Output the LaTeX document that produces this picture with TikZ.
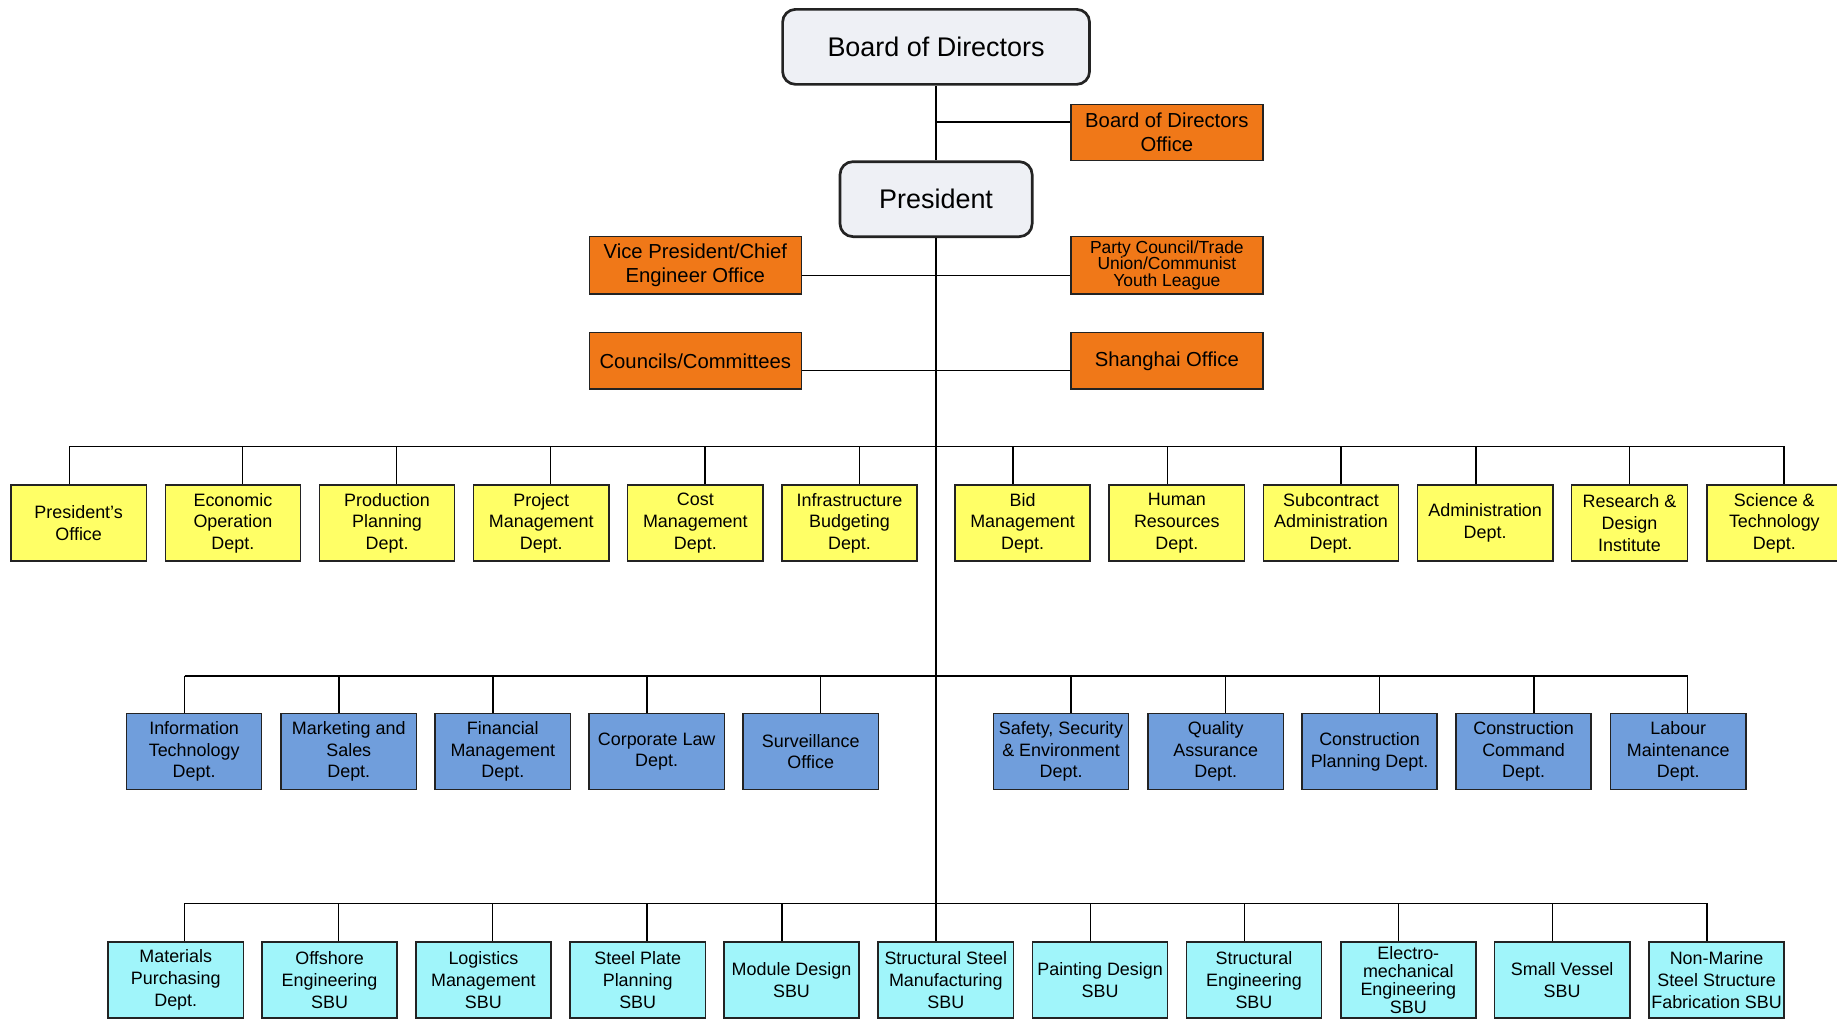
\documentclass[tikz,border=0pt]{standalone}
\usepackage{fontspec}
\setmainfont{Liberation Sans}
\definecolor{boardfill}{RGB}{238,240,245}
\definecolor{orangefill}{RGB}{240,120,24}
\definecolor{yellowfill}{RGB}{255,255,102}
\definecolor{bluefill}{RGB}{112,158,220}
\definecolor{cyanfill}{RGB}{160,245,250}
\definecolor{edge}{RGB}{35,35,35}
\begin{document}
\begin{tikzpicture}[x=1pt,y=-1pt,
  link/.style={line width=1.2pt, draw=black},
  topbox/.style={draw=edge, line width=2.3pt, rounded corners=11pt, fill=boardfill,
    inner sep=0pt, font=\fontsize{23}{27}\selectfont},
  obox/.style={draw=edge, line width=1.3pt, fill=orangefill, align=center, inner sep=0pt,
    font=\fontsize{17.3}{20}\selectfont},
  unitbox/.style={draw=edge, line width=1.3pt, align=center, inner sep=0pt,
    minimum width=115.4pt, minimum height=65pt, font=\fontsize{15.3}{18.5}\selectfont},
  ybox/.style={unitbox, fill=yellowfill},
  bbox/.style={unitbox, fill=bluefill},
  cbox/.style={unitbox, fill=cyanfill},
]
\useasboundingbox (0,0) rectangle (1568,869);

% ---- top of the hierarchy
\node[topbox, minimum width=262pt, minimum height=64pt] (board) at (799,40) {Board of Directors};
\node[topbox, minimum width=164pt, minimum height=64pt] (pres) at (799,170) {President};

\node[obox, minimum width=164pt, minimum height=48pt] (bodo) at (996,113) {Board of Directors\\Office};
\node[obox, minimum width=181pt, minimum height=49pt] (vp) at (593.5,226.5) {Vice President/Chief\\Engineer Office};
\node[obox, minimum width=164pt, minimum height=49pt, font=\fontsize{14.9}{14}\selectfont] (party) at (996,226.5) {Party Council/Trade\\Union/Communist\\Youth League};
\node[obox, minimum width=181pt, minimum height=48pt] (coun) at (593.5,308) {Councils/Committees};
\node[obox, minimum width=164pt, minimum height=48pt] (sha) at (996,308) {Shanghai Office};

% ---- first row of departments
\node[ybox] (y1) at (67.15,446.5) {President’s\\Office};
\node[ybox] (y2) at (198.8,446.5) {Economic\\Operation\\Dept.};
\node[ybox] (y3) at (330.4,446.5) {Production\\Planning\\Dept.};
\node[ybox] (y4) at (462.0,446.5) {Project\\Management\\Dept.};
\node[ybox] (y5) at (593.5,446.5) {Cost\\Management\\Dept.};
\node[ybox] (y6) at (725.1,446.5) {Infrastructure\\Budgeting\\Dept.};
\node[ybox] (y7) at (872.85,446.5) {Bid\\Management\\Dept.};
\node[ybox] (y8) at (1004.5,446.5) {Human\\Resources\\Dept.};
\node[ybox] (y9) at (1136.1,446.5) {Subcontract\\Administration\\Dept.};
\node[ybox] (y10) at (1267.65,446.5) {Administration\\Dept.};
\node[ybox, minimum width=99pt] (y11) at (1390.9,446.5) {Research \&\\Design\\Institute};
\node[ybox] (y12) at (1514.5,446.5) {Science \&\\Technology\\Dept.};

% ---- second row of departments
\node[bbox] (b1) at (165.7,641.5) {Information\\Technology\\Dept.};
\node[bbox] (b2) at (297.7,641.5) {Marketing and\\Sales\\Dept.};
\node[bbox] (b3) at (429.2,641.5) {Financial\\Management\\Dept.};
\node[bbox] (b4) at (560.5,641.5) {Corporate Law\\Dept.};
\node[bbox] (b5) at (692,641.5) {Surveillance\\Office};
\node[bbox] (b6) at (905.7,641.5) {Safety, Security\\\& Environment\\Dept.};
\node[bbox] (b7) at (1037.7,641.5) {Quality\\Assurance\\Dept.};
\node[bbox] (b8) at (1169,641.5) {Construction\\Planning Dept.};
\node[bbox] (b9) at (1300.5,641.5) {Construction\\Command\\Dept.};
\node[bbox] (b10) at (1432.5,641.5) {Labour\\Maintenance\\Dept.};

% ---- business units
\node[cbox] (c1) at (150,836.5) {Materials\\Purchasing\\Dept.};
\node[cbox] (c2) at (281.3,836.5) {Offshore\\Engineering\\SBU};
\node[cbox] (c3) at (412.6,836.5) {Logistics\\Management\\SBU};
\node[cbox] (c4) at (544.3,836.5) {Steel Plate\\Planning\\SBU};
\node[cbox] (c5) at (675.6,836.5) {Module Design\\SBU};
\node[cbox] (c6) at (807.3,836.5) {Structural Steel\\Manufacturing\\SBU};
\node[cbox] (c7) at (939,836.5) {Painting Design\\SBU};
\node[cbox] (c8) at (1070.3,836.5) {Structural\\Engineering\\SBU};
\node[cbox, font=\fontsize{15.3}{15.5}\selectfont] (c9) at (1202.1,836.5) {Electro-\\mechanical\\Engineering\\SBU};
\node[cbox] (c10) at (1333.4,836.5) {Small Vessel\\SBU};
\node[cbox] (c11) at (1465.2,836.5) {Non-Marine\\Steel Structure\\Fabrication SBU};

% ---- junctions on the trunk
\coordinate (j1) at (799,104);
\coordinate (j2) at (799,235);
\coordinate (j3) at (799,316);

% ---- drop points on the three buses
\foreach \i/\x in {1/59.1,2/206.9,3/338.5,4/470.1,5/601.9,6/733.5,7/864.8,8/996.4,9/1144.6,10/1259.7,11/1390.7,12/1522.7}
  \coordinate (yc\i) at (\x,381);
\foreach \i/\x in {1/157.6,2/289.2,3/420.7,4/552.2,5/700.3,6/914,7/1046,8/1177.5,9/1309.5,10/1440.6}
  \coordinate (bc\i) at (\x,577);
\foreach \i/\x in {1/157.6,2/288.9,3/420.5,4/552.3,5/667.4,6/799,7/930.9,8/1062.1,9/1193.9,10/1325.2,11/1457}
  \coordinate (cc\i) at (\x,771);

% ---- connectors
\draw[link] (board.south) -- (pres.north);
\draw[link] (j1) -- (j1 -| bodo.west);
\draw[link] (pres.south) -- (cc6 |- c6.north);
\draw[link] (j2 -| vp.east) -- (j2 -| party.west);
\draw[link] (j3 -| coun.east) -- (j3 -| sha.west);

\draw[link] (yc1) -- (yc12);
\foreach \i in {1,...,12} \draw[link] (yc\i) -- (yc\i |- y\i.north);
\draw[link] (bc1) -- (bc10);
\foreach \i in {1,...,10} \draw[link] (bc\i) -- (bc\i |- b\i.north);
\draw[link] (cc1) -- (cc11);
\foreach \i in {1,...,11} \draw[link] (cc\i) -- (cc\i |- c\i.north);
\end{tikzpicture}
\end{document}
